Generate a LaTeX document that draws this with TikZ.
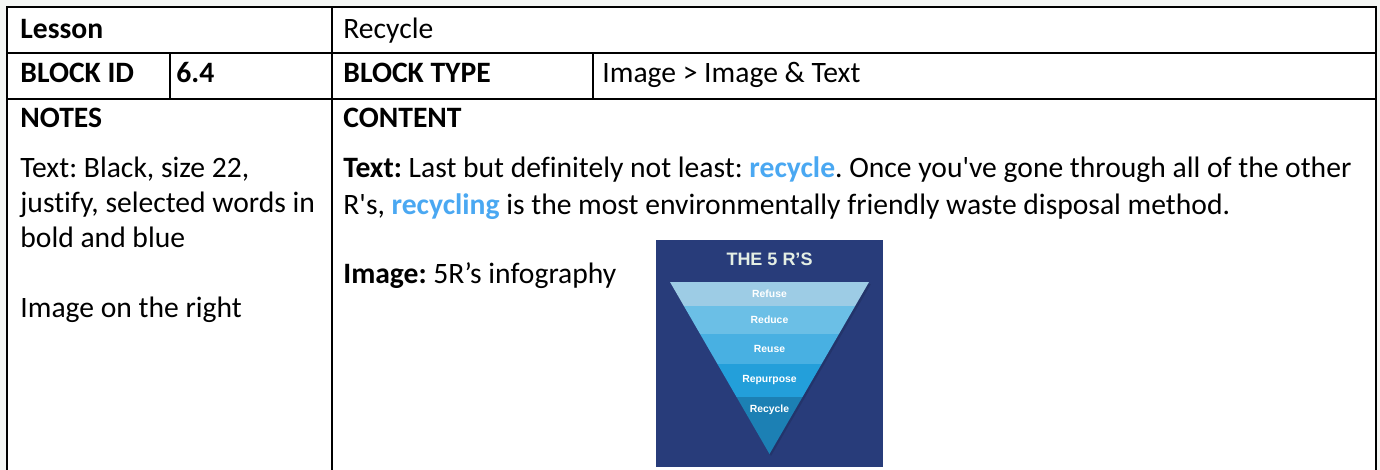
\documentclass[tikz,border=0pt]{standalone}
\usepackage{fontspec}
\setmainfont{Carlito}[Ligatures={TeX,NoCommon}]
\newfontfamily\infofont{Liberation Sans}
\usepackage{xcolor}
\usepackage{tikz}
\definecolor{pagegray}{HTML}{F4F6F4}
\definecolor{wordblue}{HTML}{4AA8F2}
\definecolor{navy}{HTML}{283C7A}
\definecolor{titlewhite}{HTML}{E4EEE4}
\definecolor{refusecol}{HTML}{9DCCE5}
\definecolor{reducecol}{HTML}{6BBFE6}
\definecolor{reusecol}{HTML}{48B0E2}
\definecolor{repurposecol}{HTML}{239FDA}
\definecolor{recyclecol}{HTML}{1C80B4}
\frenchspacing

\begin{document}
\begin{tikzpicture}[x=0.5pt,y=-0.5pt]
      \tikzstyle{cell}=[anchor=base west,inner sep=0pt,font=\fontsize{14.8}{17.5}\selectfont]
      \tikzstyle{head}=[cell,font=\fontsize{14.8}{17.5}\selectfont\bfseries]
      \tikzstyle{rule}=[line width=1pt]
      \tikzstyle{rlabel}=[inner sep=0pt,text=white,font=\infofont\bfseries\fontsize{5.2}{6}\selectfont]
      \useasboundingbox (0,0) rectangle (1380,470);
      \fill[pagegray] (0,0) rectangle (1380,470);
      \fill[white] (7,7) rectangle (1376,470);
      \draw[rule] (7,470) -- (7,7) -- (1376,7) -- (1376,470);
      \draw[rule] (7,53) -- (1376,53);
      \draw[rule] (7,99) -- (1376,99);
      \draw[rule] (332,7) -- (332,470);
      \draw[rule] (170,53) -- (170,99);
      \draw[rule] (593,53) -- (593,99);
      \node[head] (lesson) at (20,39) {Lesson};
      \node[cell] (topic) at (343,39) {Recycle};
      \node[head] (idkey) at (20,83) {BLOCK ID};
      \node[head] (idval) at (176,83) {6.4};
      \node[head] (typekey) at (343,83) {BLOCK TYPE};
      \node[cell] (typeval) at (602,83) {Image > Image \& Text};
      \node[head] (notes) at (20,128) {NOTES};
      \node[head] (content) at (343,128) {CONTENT};
      \node[cell] (note1) at (20,178) {Text: Black, size 22,};
      \node[cell] (note2) at (20,213) {justify, selected words in};
      \node[cell] (note3) at (20,248) {bold and blue};
      \node[cell] (note4) at (20,317) {Image on the right};
      \node[cell] (text1) at (343,178) {\textbf{Text:} Last but definitely not least: \textbf{\color{wordblue}recycle}. Once you\textquotesingle ve gone through all of the other};
      \node[cell] (text2) at (343,214) {R\textquotesingle s, \textbf{\color{wordblue}recycling} is the most environmentally friendly waste disposal method.};
      \node[cell] (image) at (343,283) {\textbf{Image:} 5R’s infography};
      % infographic
      \fill[navy] (656,240) rectangle (883,467);
      \node[anchor=base,inner sep=0pt,text=titlewhite,font=\infofont\bfseries\fontsize{9}{10}\selectfont] (title) at (769.5,265) {THE 5 R’S};
      \fill[black,opacity=0.12] (672,284) -- (871,284) -- (771,456) -- cycle;
      \begin{scope}
        \clip (670,282) -- (869,282) -- (769.5,454) -- cycle;
        \fill[refusecol] (660,282) rectangle (880,306);
        \fill[reducecol] (660,306) rectangle (880,334);
        \fill[reusecol] (660,334) rectangle (880,364);
        \fill[repurposecol] (660,364) rectangle (880,397);
        \fill[recyclecol] (660,397) rectangle (880,455);
      \end{scope}
      \node[rlabel] (refuse) at (769.5,294) {Refuse};
      \node[rlabel] (reduce) at (769.5,320) {Reduce};
      \node[rlabel] (reuse) at (769.5,349) {Reuse};
      \node[rlabel] (repurpose) at (769.5,380) {Repurpose};
      \node[rlabel] (recycle) at (769.5,410) {Recycle};
    \end{tikzpicture}
\end{document}
